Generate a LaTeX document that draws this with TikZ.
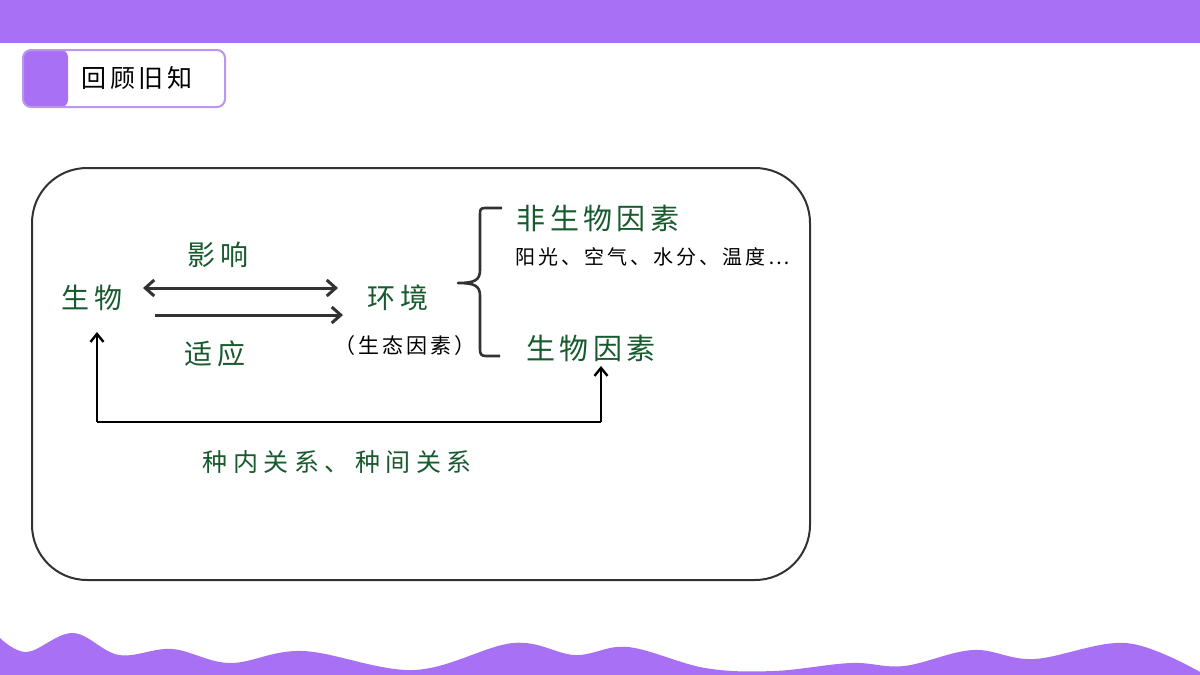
\documentclass[tikz,border=0pt]{standalone}
\usepackage{fontspec}
\newfontfamily\cjk[LetterSpace=15]{Noto Sans CJK SC}
\newfontfamily\cjkw[LetterSpace=22]{Noto Sans CJK SC}
\usetikzlibrary{arrows.meta}
\definecolor{vio}{RGB}{168,112,245}
\definecolor{violine}{RGB}{185,150,240}
\definecolor{lgreen}{RGB}{22,90,45}
\definecolor{dline}{RGB}{50,50,50}
\tikzset{
  lab/.style={text=lgreen,font=\cjk\fontsize{28}{30}\selectfont,inner sep=0pt},
  small/.style={text=black,font=\cjk\fontsize{20}{22}\selectfont,inner sep=0pt},
  arr/.style={draw=dline,line width=3pt,-{Straight Barb[length=9pt,width=16pt,line width=3pt]}},
  loop/.style={draw=black,line width=2.4pt,-{Straight Barb[length=8pt,width=13pt,line width=2.4pt]}}
}
\begin{document}
\begin{tikzpicture}[x=1pt,y=-1pt]
\useasboundingbox (0,0) rectangle (1200,675);
\fill[white] (0,0) rectangle (1200,675);
% top bar
\fill[vio] (0,0) rectangle (1200,43);
% title box
\fill[vio,rounded corners=7pt] (23,50) rectangle (68,107);
\draw[violine,line width=2pt,rounded corners=8pt] (23,50) rectangle (225,107);
\node[font=\cjk\fontsize{25}{27}\selectfont,inner sep=0pt] (title) at (137,78) {回顾旧知};
% main box
\draw[dline,line width=2pt,rounded corners=55pt] (32,168) rectangle (810,580);
% labels
\node[lab] (sw) at (92,298) {生物};
\node[lab] (yx) at (218,255) {影响};
\node[lab] (sy) at (215,354) {适应};
\node[lab] (hj) at (398,298) {环境};
\node[small,font=\cjk\fontsize{21}{23}\selectfont] (stys) at (405,346) {（生态因素）};
\node[small] (ygs) at (653,257) {阳光、空气、水分、温度…};
\node[lab,font=\cjk\fontsize{29}{31}\selectfont] (fsw) at (598,218) {非生物因素};
\node[lab,font=\cjk\fontsize{29}{31}\selectfont] (swys) at (591,348) {生物因素};
\node[lab,font=\cjkw\fontsize{25}{27}\selectfont] (zn) at (337,462) {种内关系、种间关系};
% arrows
\coordinate (a1) at (143,288);
\coordinate (a2) at (338,288);
\draw[arr,{Straight Barb[length=9pt,width=16pt,line width=3pt]}-{Straight Barb[length=9pt,width=16pt,line width=3pt]}] (a1) -- (a2);
\coordinate (b1) at (155,315);
\coordinate (b2) at (343,315);
\draw[arr] (b1) -- (b2);
% bracket
\draw[dline,line width=2.6pt,line join=round] (502,208) -- (485,208) .. controls (480,208) and (480,210) .. (480,215) -- (480,270) .. controls (480,280) and (475,283) .. (458,283) .. controls (475,283) and (480,286) .. (480,296) -- (480,349) .. controls (480,354) and (481,356) .. (486,356) -- (500,356);
% loop
\coordinate (l1) at (97,422);
\coordinate (l2) at (601,422);
\coordinate (t1) at (97,332);
\coordinate (t2) at (601,366);
\draw[loop] (l1) -- (t1);
\draw[black,line width=2.4pt] (l1) -- (l2);
\draw[loop] (l2) -- (t2);
% bottom wave
\fill[vio] (0,675) -- plot[smooth,tension=0.6] coordinates {(0,638) (27,652) (73,633) (119,655) (172,649) (230,663) (303,651) (414,670) (513,643) (575,655) (628,647) (705,668) (774,671) (851,663) (904,666) (973,650) (1034,659) (1126,643) (1200,672)} -- (1200,675) -- cycle;
\end{tikzpicture}
\end{document}
